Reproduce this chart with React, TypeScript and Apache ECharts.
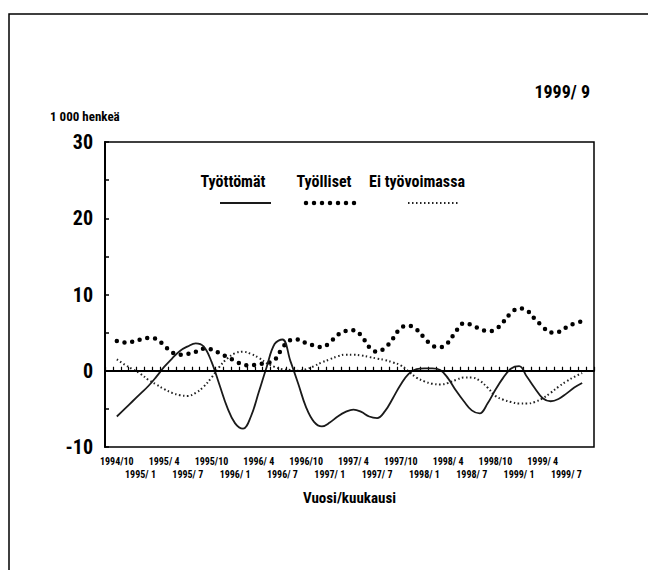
import React, { useEffect, useRef } from "react";
import * as echarts from "echarts";

// Monthly categories 1994/10 .. 1999/9 (one empty padding slot is added at each end)
const months: string[] = [
  "1994/10", "1994/11", "1994/12",
  "1995/ 1", "1995/ 2", "1995/ 3", "1995/ 4", "1995/ 5", "1995/ 6", "1995/ 7", "1995/ 8", "1995/ 9", "1995/10", "1995/11", "1995/12",
  "1996/ 1", "1996/ 2", "1996/ 3", "1996/ 4", "1996/ 5", "1996/ 6", "1996/ 7", "1996/ 8", "1996/ 9", "1996/10", "1996/11", "1996/12",
  "1997/ 1", "1997/ 2", "1997/ 3", "1997/ 4", "1997/ 5", "1997/ 6", "1997/ 7", "1997/ 8", "1997/ 9", "1997/10", "1997/11", "1997/12",
  "1998/ 1", "1998/ 2", "1998/ 3", "1998/ 4", "1998/ 5", "1998/ 6", "1998/ 7", "1998/ 8", "1998/ 9", "1998/10", "1998/11", "1998/12",
  "1999/ 1", "1999/ 2", "1999/ 3", "1999/ 4", "1999/ 5", "1999/ 6", "1999/ 7", "1999/ 8", "1999/ 9",
];

const tyottomat: number[] = [
  -6.0, -5.0, -4.0, -3.0, -2.0, -0.8, 0.5, 1.6, 2.6, 3.2, 3.6, 3.2,
  1.2, -1.8, -4.8, -6.9, -7.6, -6.0, -2.8, 0.5, 3.5, 4.1, 1.3, -1.7,
  -4.8, -6.7, -7.3, -6.8, -6.0, -5.4, -5.1, -5.4, -6.0, -6.2, -5.3, -3.6,
  -1.8, -0.4, 0.2, 0.3, 0.3, 0.1, -1.0, -2.6, -4.0, -5.2, -5.6, -4.3,
  -2.5, -0.9, 0.3, 0.6, -0.8, -2.3, -3.6, -4.0, -3.7, -3.0, -2.2, -1.6,
];

const tyolliset: number[] = [
  3.9, 3.7, 3.8, 4.1, 4.3, 4.2, 3.3, 2.4, 2.1, 2.2, 2.5, 2.9,
  2.8, 2.3, 1.8, 1.3, 0.8, 0.7, 0.9, 1.0, 1.4, 3.0, 4.0, 4.1,
  3.6, 3.3, 3.1, 3.7, 4.7, 5.2, 5.3, 4.6, 3.1, 2.5, 3.0, 4.2,
  5.6, 5.9, 5.4, 4.3, 3.3, 3.1, 3.7, 5.2, 6.2, 6.0, 5.5, 5.2,
  5.4, 6.4, 7.6, 8.2, 7.9, 6.8, 5.8, 5.0, 5.1, 5.7, 6.2, 6.5,
];

const eiTyovoimassa: number[] = [
  1.5, 0.8, 0.2, -0.4, -1.2, -1.8, -2.4, -2.9, -3.2, -3.3, -2.9, -2.1,
  -0.9, 0.5, 1.6, 2.3, 2.5, 2.2, 1.7, 1.0, 0.5, 0.2, 0.1, 0.0,
  0.2, 0.6, 1.1, 1.5, 1.9, 2.1, 2.1, 2.0, 1.8, 1.6, 1.4, 1.1,
  0.7, -0.1, -0.9, -1.4, -1.7, -1.8, -1.6, -1.2, -0.9, -0.9, -1.3, -2.2,
  -3.3, -3.8, -4.1, -4.3, -4.3, -4.1, -3.6, -2.9, -2.1, -1.4, -0.8, -0.3,
];

const seriesNames = ["Työttömät", "Työlliset", "Ei työvoimassa"];
const yTicks = { min: -10, max: 30, step: 5 };

const FONT = "'Roboto Condensed', 'Open Sans Condensed', 'DejaVu Sans Condensed', sans-serif";

export default function App() {
  const ref = useRef<HTMLDivElement>(null);

  useEffect(() => {
    document.body.style.margin = "0";
    if (!ref.current) return;
    const chart = echarts.init(ref.current, undefined, { renderer: "svg" });

    const cats = ["", ...months, ""];
    const pad = (arr: number[]) => [null, ...arr, null];

    const labelStyle = {
      color: "#000",
      fontFamily: FONT,
      fontWeight: "bold",
      fontSize: 10,
    };

    const option: any = {
      animation: false,
      backgroundColor: "#fff",
      grid: {
        left: 105,
        right: 54,
        top: 142,
        bottom: 123,
        show: true,
        borderColor: "#000",
        borderWidth: 1.5,
      },
      xAxis: [
        {
          type: "category",
          data: cats,
          boundaryGap: true,
          axisLine: { lineStyle: { color: "#000", width: 2 } },
          axisTick: {
            show: true,
            inside: true,
            length: 4,
            interval: 0,
            lineStyle: { color: "#000", width: 1.2 },
          },
          axisLabel: {
            ...labelStyle,
            interval: (index: number) => index >= 1 && (index - 1) % 6 === 0,
            margin: 9,
          },
          name: "Vuosi/kuukausi",
          nameLocation: "middle",
          nameGap: 43,
          nameTextStyle: { color: "#000", fontFamily: FONT, fontWeight: "bold", fontSize: 15 },
        },
        {
          type: "category",
          data: cats,
          boundaryGap: true,
          position: "bottom",
          axisLine: { show: false },
          axisTick: { show: false },
          axisLabel: {
            ...labelStyle,
            interval: (index: number) => index >= 4 && (index - 4) % 6 === 0,
            margin: 22,
          },
        },
      ],
      yAxis: {
        type: "value",
        min: yTicks.min,
        max: yTicks.max,
        interval: yTicks.step,
        splitLine: { show: false },
        axisLine: { show: true, lineStyle: { color: "#000", width: 2 } },
        axisTick: { show: true, inside: true, length: 4, lineStyle: { color: "#000", width: 1.5 } },
        axisLabel: {
          formatter: (v: number) => (v % 10 === 0 ? String(v) : ""),
          color: "#000",
          fontFamily: FONT,
          fontWeight: "bold",
          fontSize: 20,
          margin: 12,
        },
      },
      series: [
        {
          name: seriesNames[0],
          type: "line",
          xAxisIndex: 0,
          data: pad(tyottomat),
          smooth: 0.4,
          showSymbol: false,
          symbol: "none",
          lineStyle: { color: "#1a1a1a", width: 1.8 },
          markLine: {
            silent: true,
            symbol: "none",
            label: { show: false },
            lineStyle: { color: "#000", width: 2, type: "solid" },
            data: [{ yAxis: 0 }],
          },
          z: 3,
        },
        {
          name: seriesNames[1],
          type: "line",
          xAxisIndex: 0,
          data: pad(tyolliset),
          smooth: 0.4,
          showSymbol: false,
          symbol: "none",
          lineStyle: { color: "#000", width: 4.5, type: [0, 7.8], cap: "round" },
          z: 2,
        },
        {
          name: seriesNames[2],
          type: "line",
          xAxisIndex: 0,
          data: pad(eiTyovoimassa),
          smooth: 0.4,
          showSymbol: false,
          symbol: "none",
          lineStyle: { color: "#222", width: 2, type: [1.5, 2.5] },
          z: 2,
        },
      ],
      graphic: [
        {
          type: "rect",
          shape: { x: 9, y: 14, width: 700, height: 650 },
          style: { fill: "none", stroke: "#000", lineWidth: 1.5 },
          silent: true,
        },
        {
          type: "text",
          x: 590,
          y: 91,
          style: {
            text: "1999/ 9",
            fill: "#000",
            font: `bold 18px ${FONT}`,
            textAlign: "right",
            textVerticalAlign: "middle",
          },
        },
        {
          type: "text",
          x: 50,
          y: 116,
          style: {
            text: "1 000 henkeä",
            fill: "#000",
            font: `bold 13px ${FONT}`,
            textAlign: "left",
            textVerticalAlign: "middle",
          },
        },
        // Legend
        {
          type: "text",
          x: 233,
          y: 181,
          style: { text: seriesNames[0], fill: "#000", font: `bold 16px ${FONT}`, textAlign: "center", textVerticalAlign: "middle" },
        },
        {
          type: "text",
          x: 324,
          y: 181,
          style: { text: seriesNames[1], fill: "#000", font: `bold 16px ${FONT}`, textAlign: "center", textVerticalAlign: "middle" },
        },
        {
          type: "text",
          x: 417,
          y: 181,
          style: { text: seriesNames[2], fill: "#000", font: `bold 16px ${FONT}`, textAlign: "center", textVerticalAlign: "middle" },
        },
        {
          type: "line",
          shape: { x1: 220, y1: 203, x2: 271, y2: 203 },
          style: { stroke: "#1a1a1a", lineWidth: 1.8 },
        },
        {
          type: "line",
          shape: { x1: 306, y1: 203, x2: 355, y2: 203 },
          style: { stroke: "#000", lineWidth: 4.5, lineDash: [0, 8], lineCap: "round" },
        },
        {
          type: "line",
          shape: { x1: 408, y1: 203, x2: 459, y2: 203 },
          style: { stroke: "#222", lineWidth: 2, lineDash: [1.5, 2.5] },
        },
      ],
    };

    chart.setOption(option);
    return () => chart.dispose();
  }, []);

  return <div ref={ref} style={{ width: 648, height: 570, background: "#fff" }} />;
}
